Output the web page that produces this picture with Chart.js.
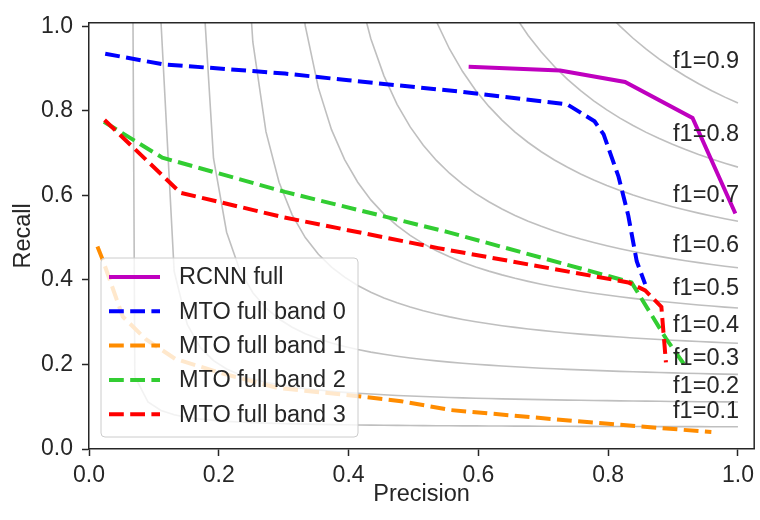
<!DOCTYPE html>
<html>
<head>
<meta charset="utf-8">
<script src="https://cdn.jsdelivr.net/npm/chart.js@4.4.0/dist/chart.umd.min.js"></script>
<style>
  html, body { margin: 0; padding: 0; background: #fff; }
  #wrap { width: 760px; height: 520px; }
</style>
</head>
<body>
<div id="wrap"><canvas id="prChart" width="760" height="520"></canvas></div>
<script>
// Series
const seriesNames = ['RCNN full', 'MTO full band 0', 'MTO full band 1', 'MTO full band 2', 'MTO full band 3'];
const seriesColors = ['#bf00bf', '#0000ff', '#ff8c00', '#32cd32', '#ff0000'];

const rcnnPrecision = [0.585, 0.726, 0.826, 0.930, 0.996];
const rcnnRecall    = [0.904, 0.895, 0.868, 0.783, 0.557];

const band0Precision = [0.025, 0.113, 0.302, 0.400, 0.573, 0.737, 0.779, 0.793, 0.816, 0.831, 0.844, 0.857];
const band0Recall    = [0.935, 0.910, 0.888, 0.872, 0.845, 0.815, 0.775, 0.744, 0.644, 0.552, 0.444, 0.390];

const band1Precision = [0.013, 0.021, 0.052, 0.088, 0.133, 0.205, 0.292, 0.415, 0.481, 0.558, 0.772, 0.959];
const band1Recall    = [0.479, 0.448, 0.313, 0.259, 0.213, 0.179, 0.144, 0.125, 0.113, 0.092, 0.063, 0.040];

const band2Precision = [0.023, 0.113, 0.302, 0.553, 0.836, 0.890, 0.918];
const band2Recall    = [0.774, 0.689, 0.608, 0.513, 0.394, 0.259, 0.198];

const band3Precision = [0.024, 0.141, 0.300, 0.538, 0.831, 0.857, 0.882, 0.889];
const band3Recall    = [0.778, 0.606, 0.548, 0.475, 0.394, 0.375, 0.336, 0.205];

// iso-f1 reference curves
const f1Levels = [0.1, 0.2, 0.3, 0.4, 0.5, 0.6, 0.7, 0.8, 0.9];

// Axis ticks
const xTickValues = [0, 0.2, 0.4, 0.6, 0.8, 1.0];
const xTickLabels = ['0.0', '0.2', '0.4', '0.6', '0.8', '1.0'];
const yTickValues = [0, 0.2, 0.4, 0.6, 0.8, 1.0];
const yTickLabels = ['0.0', '0.2', '0.4', '0.6', '0.8', '1.0'];

const FONT = "'Liberation Sans', Arial, sans-serif";
const INK = '#262626';

const toPoints = (xs, ys) => xs.map((x, i) => ({ x: x, y: ys[i] }));

// iso-f1 lines are the analytic curves f = 2PR/(P+R), sampled as in the usual PR plot
function isoCurve(f) {
    const pts = [];
    for (let i = 0; i < 50; i++) {
        const x = 0.01 + i * 0.99 / 49;
        const y = f * x / (2 * x - f);
        if (y >= 0) pts.push({ x: x, y: y });
    }
    return pts;
}
function isoLabelY(f) {
    const x = 0.01 + 45 * 0.99 / 49;
    return f * x / (2 * x - f) + 0.02;
}

const seriesData = [
    toPoints(rcnnPrecision, rcnnRecall),
    toPoints(band0Precision, band0Recall),
    toPoints(band1Precision, band1Recall),
    toPoints(band2Precision, band2Recall),
    toPoints(band3Precision, band3Recall)
];

const datasets = [];
f1Levels.forEach(f => {
    datasets.push({
        label: 'iso',
        data: isoCurve(f),
        borderColor: 'rgba(128,128,128,0.5)',
        borderWidth: 1.6,
        pointRadius: 0,
        showLine: true,
        order: 20
    });
});
seriesData.forEach((pts, i) => {
    datasets.push({
        label: seriesNames[i],
        data: pts,
        borderColor: seriesColors[i],
        borderWidth: 4,
        borderDash: i === 0 ? [] : [14.8, 6.4],
        pointRadius: 0,
        showLine: true,
        order: 10 - i
    });
});

// f1 labels, frame and legend
const decorations = {
    id: 'decorations',
    afterDatasetsDraw(chart) {
        const { ctx, chartArea: a, scales: { x, y } } = chart;
        ctx.save();
        ctx.font = `23.5px ${FONT}`;
        ctx.fillStyle = INK;
        ctx.textAlign = 'left';
        ctx.textBaseline = 'alphabetic';
        f1Levels.forEach(f => {
            ctx.fillText('f1=' + f.toFixed(1), x.getPixelForValue(0.9), y.getPixelForValue(isoLabelY(f)));
        });

        // top / right spines
        ctx.strokeStyle = INK;
        ctx.lineWidth = 1.5;
        ctx.beginPath();
        ctx.moveTo(a.left, a.top);
        ctx.lineTo(a.right, a.top);
        ctx.lineTo(a.right, a.bottom);
        ctx.stroke();

        // legend box
        const bx = 101, by = 258, bw = 257, bh = 179;
        ctx.beginPath();
        ctx.roundRect(bx, by, bw, bh, 4);
        ctx.fillStyle = 'rgba(255,255,255,0.8)';
        ctx.fill();
        ctx.strokeStyle = '#cccccc';
        ctx.lineWidth = 1;
        ctx.stroke();

        seriesNames.forEach((name, i) => {
            const cy = 277 + i * 34.3;
            ctx.beginPath();
            ctx.setLineDash(i === 0 ? [] : [14.8, 6.4]);
            ctx.strokeStyle = seriesColors[i];
            ctx.lineWidth = 4;
            ctx.moveTo(109, cy);
            ctx.lineTo(160, cy);
            ctx.stroke();
            ctx.setLineDash([]);
            ctx.fillStyle = INK;
            ctx.textBaseline = 'middle';
            ctx.fillText(name, 179, cy + 1);
        });
        ctx.restore();
    }
};

new Chart(document.getElementById('prChart'), {
    type: 'scatter',
    data: { datasets: datasets },
    options: {
        responsive: false,
        animation: false,
        layout: { padding: { top: 12, right: 2, left: 0, bottom: 0 } },
        plugins: { legend: { display: false }, tooltip: { enabled: false } },
        elements: { line: { tension: 0, borderCapStyle: 'butt' } },
        scales: {
            x: {
                type: 'linear',
                min: 0,
                max: 1.025,
                afterBuildTicks: s => { s.ticks = xTickValues.map(v => ({ value: v })); },
                afterFit: s => { s.height = 71; },
                ticks: {
                    callback: (v, i) => xTickLabels[i],
                    font: { family: FONT, size: 23 },
                    color: INK,
                    padding: 6,
                    maxRotation: 0
                },
                grid: { drawOnChartArea: false, drawTicks: true, tickLength: 7, tickWidth: 1.5, tickColor: INK },
                border: { display: true, color: INK, width: 1.5 },
                title: { display: true, text: 'Precision', font: { family: FONT, size: 23.5 }, color: INK, padding: { top: 0, bottom: 11 } }
            },
            y: {
                type: 'linear',
                min: 0,
                max: 1.008,
                afterBuildTicks: s => { s.ticks = yTickValues.map(v => ({ value: v })); },
                afterFit: s => { s.width = 89; },
                ticks: {
                    callback: (v, i) => yTickLabels[i],
                    font: { family: FONT, size: 23 },
                    color: INK,
                    padding: 9
                },
                grid: { drawOnChartArea: false, drawTicks: true, tickLength: 7, tickWidth: 1.5, tickColor: INK },
                border: { display: true, color: INK, width: 1.5 },
                title: { display: true, text: 'Recall', font: { family: FONT, size: 23.5 }, color: INK, padding: { top: 9, bottom: 0 } }
            }
        }
    },
    plugins: [decorations]
});
</script>
</body>
</html>
